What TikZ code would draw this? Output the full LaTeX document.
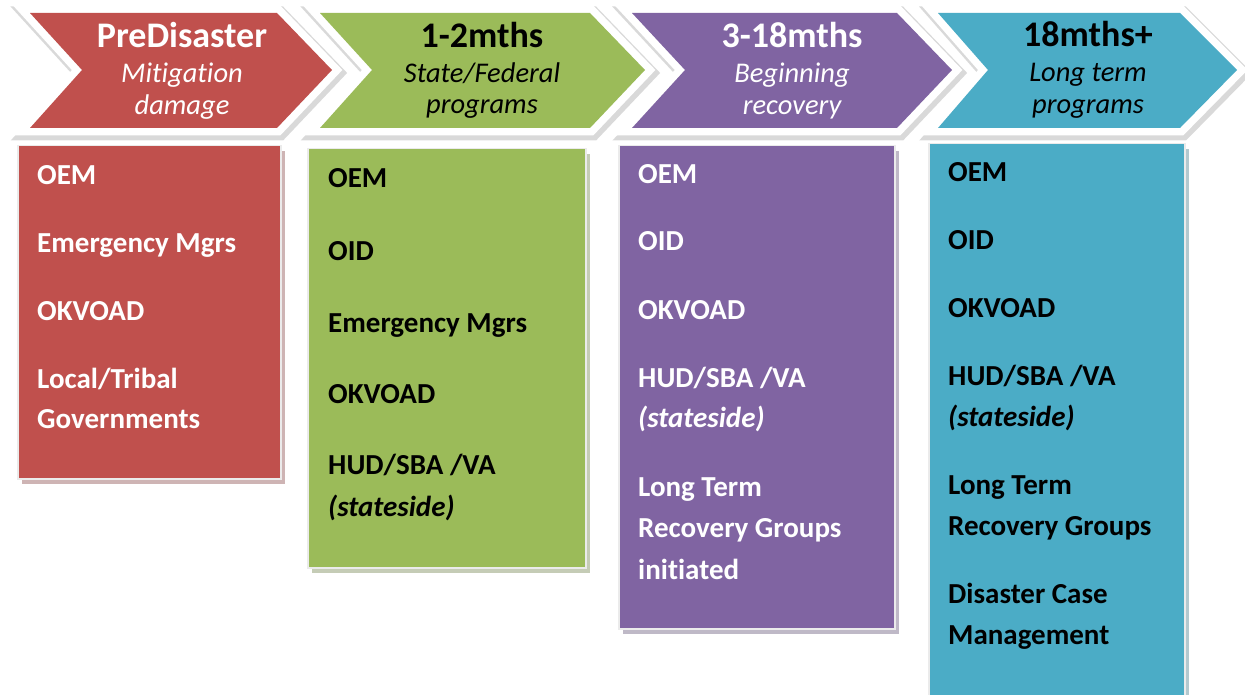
\documentclass[tikz,border=0pt]{standalone}
\usepackage{fontspec}
\setmainfont[Ligatures={NoCommon,NoContextual},RawFeature={-liga;-clig;-calt}]{Carlito}
\definecolor{myred}{RGB}{192,80,77}
\definecolor{mygreen}{RGB}{155,187,89}
\definecolor{mypurple}{RGB}{128,100,162}
\definecolor{myteal}{RGB}{75,172,198}
\usetikzlibrary{shadows}

\begin{document}
\begin{tikzpicture}[x=1pt,y=-1pt,
    chev/.style={line join=miter,
      preaction={draw=black!15,line width=19pt,transform canvas={xshift=2pt,yshift=-3pt}},
      preaction={draw=white,line width=15pt}},
    box/.style={anchor=north west,draw=white!92!black,line width=1.5pt,inner sep=0pt,minimum width=#1},
    shade/.style={drop shadow={shadow xshift=4pt,shadow yshift=-5pt,fill=#1}},
    head/.style={anchor=base,inner sep=0pt,font=\bfseries\fontsize{36}{40}\selectfont},
    sub/.style={anchor=base,inner sep=0pt,font=\itshape\fontsize{28.5}{32}\selectfont},
    item/.style={anchor=base west,inner sep=0pt,font=\bfseries\fontsize{29}{35}\selectfont}
    ]
    \useasboundingbox (0,0) rectangle (1245,695);

    % the chevrons
    \path[chev,fill=myred] (30,13) -- (277,13) -- (332,70) -- (277,128) -- (30,128) -- (82,70) -- cycle;
    \path[chev,fill=mygreen] (320,13) -- (590,13) -- (645,70) -- (590,128) -- (320,128) -- (372,70) -- cycle;
    \path[chev,fill=mypurple] (632,13) -- (897,13) -- (952,70) -- (897,128) -- (632,128) -- (685,70) -- cycle;
    \path[chev,fill=myteal] (938,13) -- (1180,13) -- (1237,70) -- (1180,128) -- (938,128) -- (988,70) -- cycle;

    % the chevron labels
    \node[head,white] (prehead) at (182,48) {PreDisaster};
    \node[sub,white] (presub1) at (182,83) {Mitigation};
    \node[sub,white] (presub2) at (182,115) {damage};
    \node[head] (shorthead) at (482,48) {1-2mths};
    \node[sub] (shortsub1) at (482,83) {State/Federal};
    \node[sub] (shortsub2) at (482,114) {programs};
    \node[head,white] (midhead) at (792,48) {3-18mths};
    \node[sub,white] (midsub1) at (792,83) {Beginning};
    \node[sub,white] (midsub2) at (792,115) {recovery};
    \node[head] (longhead) at (1088,47) {18mths+};
    \node[sub] (longsub1) at (1088,82) {Long term};
    \node[sub] (longsub2) at (1088,114) {programs};

    % the boxes
    \node[box=263pt,shade=myred!45!gray,fill=myred,minimum height=333pt] (prebox) at (17,145) {};
    \node[box=278pt,shade=mygreen!45!gray,fill=mygreen,minimum height=419pt] (shortbox) at (307,148) {};
    \node[box=276pt,shade=mypurple!45!gray,fill=mypurple,minimum height=483pt] (midbox) at (618,145) {};
    \node[box=256pt,shade=myteal!45!gray,fill=myteal,minimum height=560pt] (longbox) at (928,143) {};

    % PreDisaster
    \node[item,white] (pre1) at (37,185) {OEM};
    \node[item,white] (pre2) at (37,252) {Emergency Mgrs};
    \node[item,white] (pre3) at (37,320) {OKVOAD};
    \node[item,white] (pre4) at (37,388) {Local/Tribal};
    \node[item,white] (pre5) at (37,428) {Governments};

    % 1-2mths
    \node[item] (short1) at (328,188) {OEM};
    \node[item] (short2) at (328,260) {OID};
    \node[item] (short3) at (328,332) {Emergency Mgrs};
    \node[item] (short4) at (328,403) {OKVOAD};
    \node[item] (short5) at (328,474) {HUD/SBA /VA};
    \node[item] (short6) at (328,516) {\textit{(stateside)}};

    % 3-18mths
    \node[item,white] (mid1) at (638,184) {OEM};
    \node[item,white] (mid2) at (638,251) {OID};
    \node[item,white] (mid3) at (638,319) {OKVOAD};
    \node[item,white] (mid4) at (638,387) {HUD/SBA /VA};
    \node[item,white] (mid5) at (638,427) {\textit{(stateside)}};
    \node[item,white] (mid6) at (638,496) {Long Term};
    \node[item,white] (mid7) at (638,537) {Recovery Groups};
    \node[item,white] (mid8) at (638,579) {initiated};

    % 18mths+
    \node[item] (long1) at (948,182) {OEM};
    \node[item] (long2) at (948,249) {OID};
    \node[item] (long3) at (948,317) {OKVOAD};
    \node[item] (long4) at (948,385) {HUD/SBA /VA};
    \node[item] (long5) at (948,426) {\textit{(stateside)}};
    \node[item] (long6) at (948,494) {Long Term};
    \node[item] (long7) at (948,535) {Recovery Groups};
    \node[item] (long8) at (948,603) {Disaster Case};
    \node[item] (long9) at (948,644) {Management};
\end{tikzpicture}
\end{document}
